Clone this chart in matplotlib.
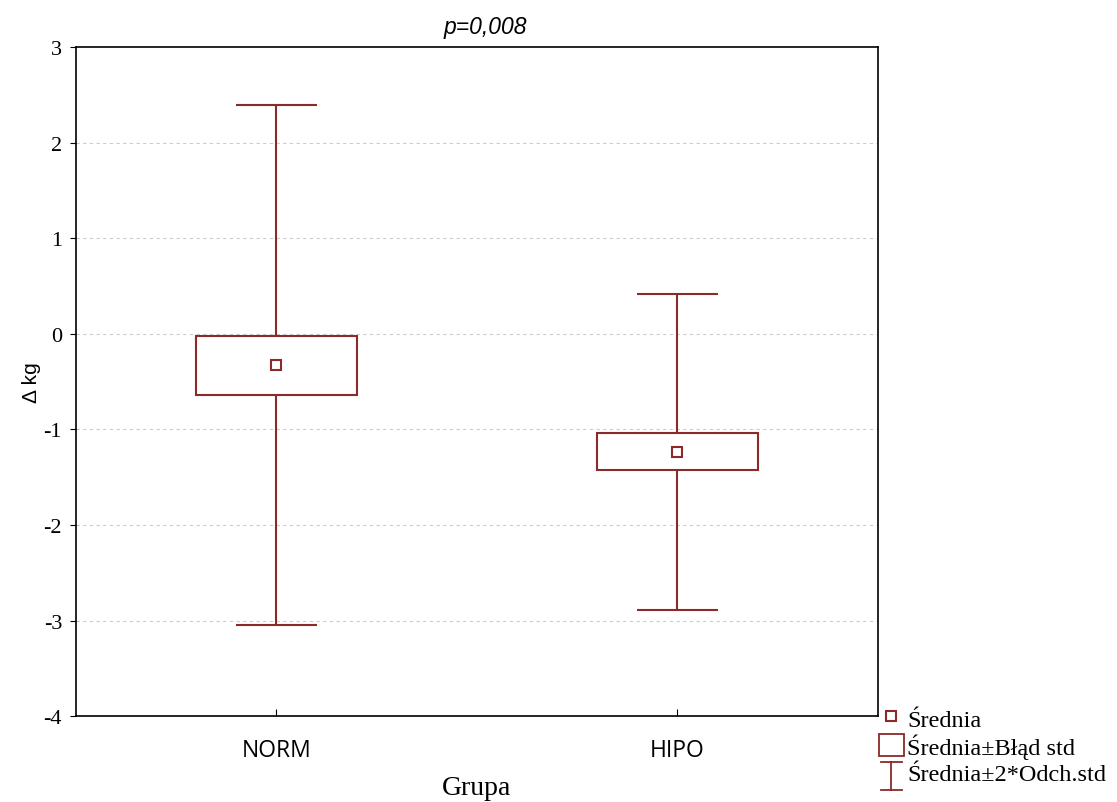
import matplotlib.pyplot as plt
from matplotlib.legend_handler import HandlerBase
from matplotlib.lines import Line2D
from matplotlib.patches import Rectangle

plt.rcParams["axes.unicode_minus"] = False

groups = ["NORM", "HIPO"]
means = [-0.33, -1.235]
std_err = [0.31, 0.195]
std_dev = [1.36, 0.8275]

color = "#8a2a2a"


class IBeamHandler(HandlerBase):
    # legend symbol for the mean +/- 2*SD whiskers
    def create_artists(self, legend, orig_handle, xdescent, ydescent, width, height, fontsize, trans):
        cx = -xdescent + width / 2
        top = -ydescent + height * 0.95
        bot = -ydescent - height * 0.35
        half = width * 0.42
        lines = [
            Line2D([cx, cx], [bot, top]),
            Line2D([cx - half, cx + half], [top, top]),
            Line2D([cx - half, cx + half], [bot, bot]),
        ]
        for ln in lines:
            ln.set_color(color)
            ln.set_linewidth(1.3)
            ln.set_transform(trans)
        return lines


fig = plt.figure(figsize=(11.17, 8.03), dpi=100)
ax = fig.add_axes([0.068, 0.107, 0.718, 0.833])

x = list(range(1, len(groups) + 1))
lo = [m - 2 * s for m, s in zip(means, std_dev)]
hi = [m + 2 * s for m, s in zip(means, std_dev)]

ax.vlines(x, lo, hi, color=color, linewidth=1.5, zorder=2)
ax.hlines(lo, [xi - 0.1 for xi in x], [xi + 0.1 for xi in x], color=color, linewidth=1.5, zorder=2)
ax.hlines(hi, [xi - 0.1 for xi in x], [xi + 0.1 for xi in x], color=color, linewidth=1.5, zorder=2)

ax.bar(x, [2 * s for s in std_err], bottom=[m - s for m, s in zip(means, std_err)], width=0.4,
       facecolor="white", edgecolor=color, linewidth=1.5, zorder=3)
ax.plot(x, means, "s", mfc="white", mec=color, mew=1.5, ms=7, zorder=4)

ax.set_xlim(0.5, 2.5)
ax.set_ylim(-4, 3)
ax.set_xticks(x)
ax.set_xticklabels(groups, fontfamily="Open Sans", fontsize=16.5)
ax.set_yticks(range(-4, 4))
for lab in ax.get_yticklabels():
    lab.set_fontfamily("Liberation Serif")
    lab.set_fontsize(16)
ax.tick_params(axis="x", direction="in", length=5, pad=16)
ax.tick_params(axis="y", direction="out", length=4, pad=6)

for yv in range(-3, 3):
    ax.axhline(yv, color="#cccccc", linestyle=(0, (3, 3)), linewidth=0.8, zorder=1)

for sp in ax.spines.values():
    sp.set_linewidth(1.2)

ax.set_ylabel("Δ kg", fontfamily="Liberation Sans", fontsize=15, labelpad=2)
ax.set_xlabel("Grupa", fontfamily="Liberation Serif", fontsize=20, labelpad=9)
ax.set_title("p=0,008", fontfamily="Liberation Sans", fontstyle="italic", fontsize=16.5, pad=10, x=0.51)

h_mean = Line2D([], [], linestyle="none", marker="s", mfc="white", mec=color, mew=1.5, ms=7)
h_box = Rectangle((0, 0), 1, 1, facecolor="white", edgecolor=color, linewidth=1.3)
h_whisk = object()
leg = fig.legend([h_mean, h_box, h_whisk],
                 ["Średnia", "Średnia±Błąd std", "Średnia±2*Odch.std"],
                 handler_map={object: IBeamHandler()},
                 loc="upper left", bbox_to_anchor=(0.785, 0.122), frameon=False,
                 prop={"family": "Liberation Serif", "size": 17.5},
                 handlelength=1.0, handleheight=1.0, handletextpad=0.15,
                 labelspacing=0.1, borderpad=0.1, borderaxespad=0)

fig.savefig("out.png", dpi=100)
